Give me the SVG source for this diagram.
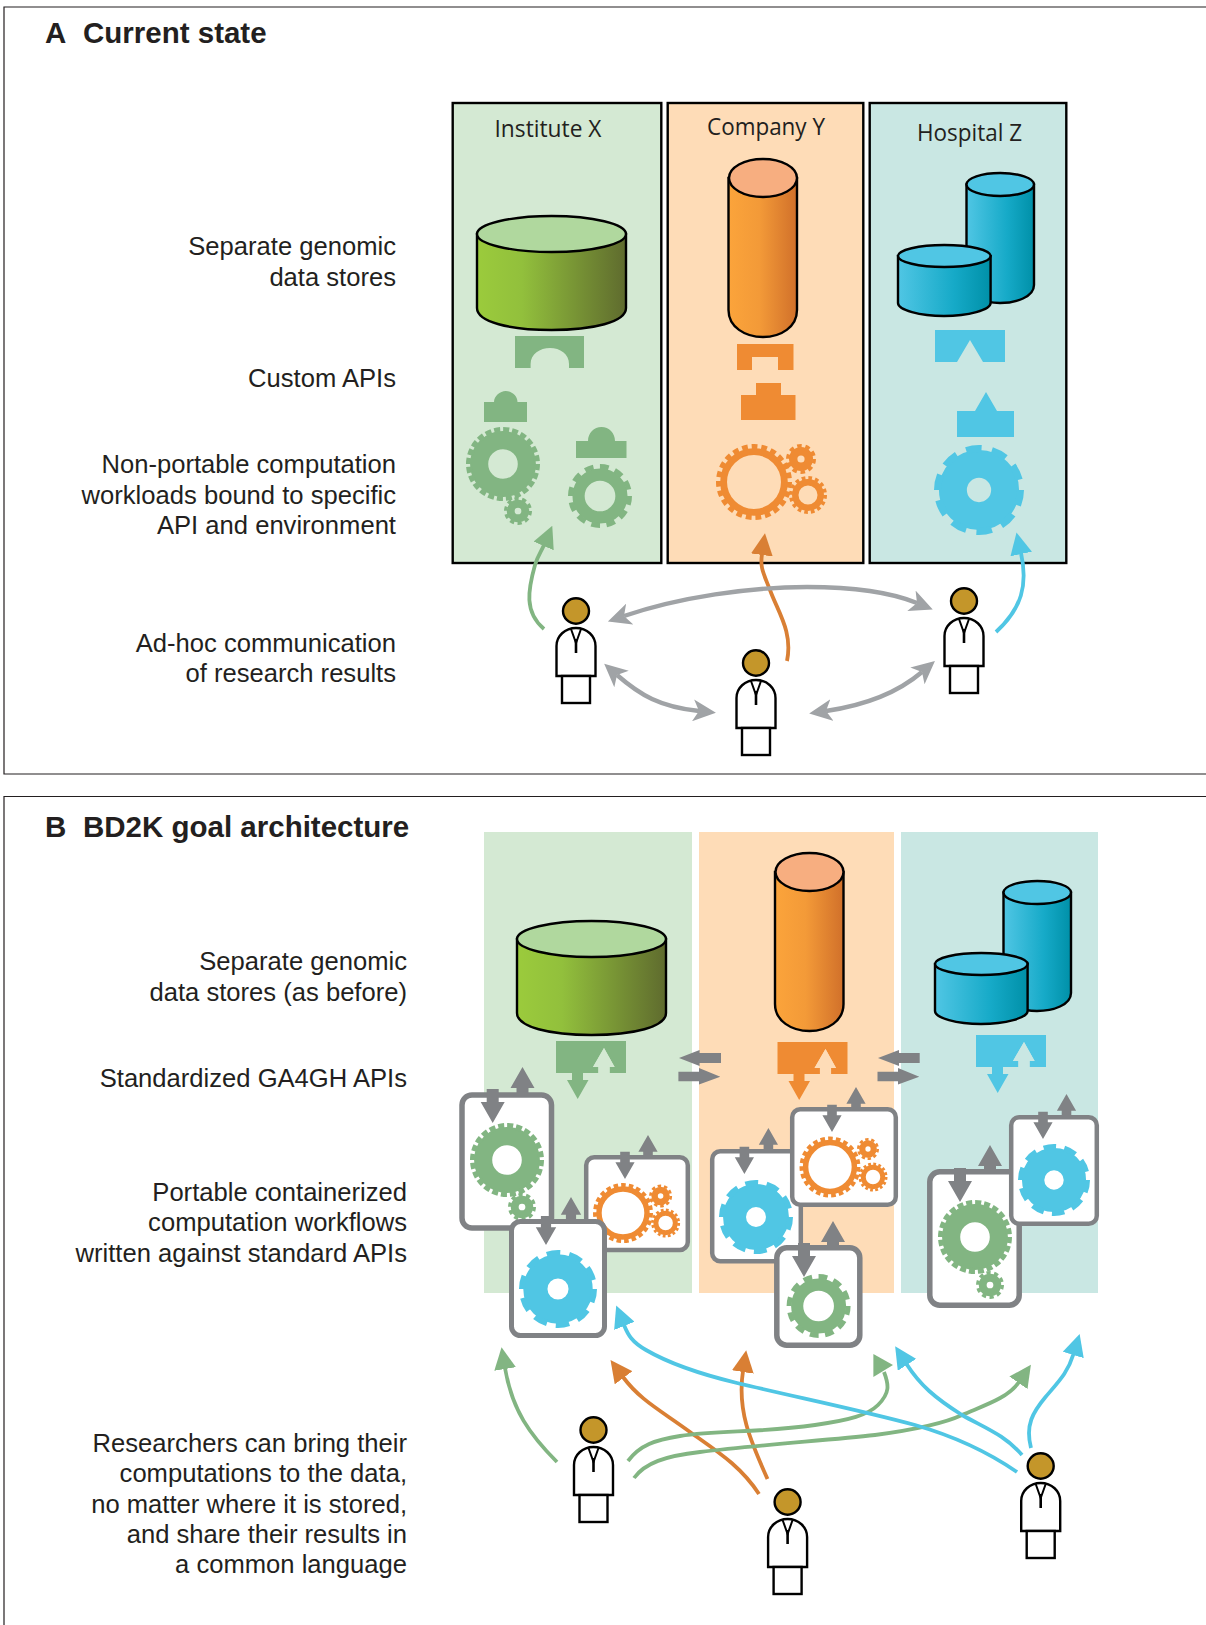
<svg xmlns="http://www.w3.org/2000/svg" width="1206" height="1625" viewBox="0 0 1206 1625">
<style>
text{font-family:"Liberation Sans",Arial,sans-serif;fill:#231f20}
.title{font-size:29.5px;font-weight:700}
.lab{font-size:25.6px;text-anchor:end}
.org{font-family:"Open Sans","Noto Sans",sans-serif;font-size:23px}
.frame{fill:none;stroke:#231f20;stroke-width:1.2}
.box{stroke:#000;stroke-width:2.4}
.bgG{fill:#d4e9d3}.bgO{fill:#fedcb7}.bgT{fill:#c9e7e3}
.g{color:#82b582;fill:#82b582}.o{color:#ef8b33;fill:#ef8b33}.t{color:#50c6e4;fill:#50c6e4}
.ring{fill:none;stroke:currentColor}
.cyl{stroke:#000;stroke-width:2.4}
.card{fill:#fff;stroke:#808285}
.gray{fill:#808285}
.hw{fill:none;stroke-width:3.8}
.hg{fill:none;stroke:#a0a3a6;stroke-width:4.4}
.cG{stroke:#82b582}.cO{stroke:#d97f34}.cT{stroke:#50c6e4}
.ps{fill:#fff;stroke:#000;stroke-width:2.4}
</style>
<defs>
<linearGradient id="gg"><stop offset="0" stop-color="#9bcb3c"/><stop offset=".3" stop-color="#92c03c"/><stop offset="1" stop-color="#5f6b2e"/></linearGradient>
<linearGradient id="go"><stop offset="0" stop-color="#fba43b"/><stop offset=".45" stop-color="#f39a38"/><stop offset="1" stop-color="#d1702a"/></linearGradient>
<linearGradient id="gt"><stop offset="0" stop-color="#50c6e4"/><stop offset=".6" stop-color="#16aac8"/><stop offset="1" stop-color="#0090a8"/></linearGradient>
<marker id="mG" viewBox="0 0 22 22" markerUnits="userSpaceOnUse" markerWidth="22" markerHeight="22" refX="1" refY="11" orient="auto"><path d="M0,0L22,11L0,22Z" fill="#82b582"/></marker>
<marker id="mO" viewBox="0 0 22 22" markerUnits="userSpaceOnUse" markerWidth="22" markerHeight="22" refX="1" refY="11" orient="auto"><path d="M0,0L22,11L0,22Z" fill="#d97f34"/></marker>
<marker id="mT" viewBox="0 0 22 22" markerUnits="userSpaceOnUse" markerWidth="22" markerHeight="22" refX="1" refY="11" orient="auto"><path d="M0,0L22,11L0,22Z" fill="#50c6e4"/></marker>
<marker id="mA" viewBox="0 0 23 22" markerUnits="userSpaceOnUse" markerWidth="23" markerHeight="22" refX="6" refY="11" orient="auto-start-reverse"><path d="M0,0L23,11L0,22L6,11Z" fill="#a0a3a6"/></marker>

<g id="gFine"><circle class="ring" r="64.5" stroke-width="49"/><circle class="ring" r="92" stroke-width="16" pathLength="100" stroke-dasharray="2.8 1.37"/></g>
<g id="gRing"><circle class="ring" r="67" stroke-width="38"/><circle class="ring" r="92" stroke-width="16" pathLength="100" stroke-dasharray="4.8 3.53"/></g>
<g id="gWide"><circle class="ring" r="58" stroke-width="62"/><circle class="ring" r="92" stroke-width="16" pathLength="100" stroke-dasharray="6 4"/></g>
<g id="gThin"><circle class="ring" r="80" stroke-width="18"/><circle class="ring" r="93" stroke-width="14" pathLength="100" stroke-dasharray="2.6 1.75"/></g>
<g id="gSm"><circle class="ring" r="67" stroke-width="34"/><circle class="ring" r="90" stroke-width="20" pathLength="100" stroke-dasharray="3.4 2.85"/></g>
<g id="gTiny"><circle class="ring" r="52" stroke-width="56"/><circle class="ring" r="88" stroke-width="24" pathLength="100" stroke-dasharray="5.5 4.5"/></g>

<polygon id="up" points="0,0 12,21 6,21 6,27 -6,27 -6,21 -12,21"/>
<polygon id="dn" points="0,0 12,-21 6,-21 6,-34 -6,-34 -6,-21 -12,-21"/>

<g id="cylG"><path d="M477,234V308C477,322 510,330 551.5,330C593,330 626,322 626,308V234Z" fill="url(#gg)" class="cyl"/><ellipse cx="551.5" cy="234" rx="74.5" ry="18" fill="#b0d89e" class="cyl"/></g>
<g id="cylO"><path d="M728.5,178V310C728.5,327 745,337 763,337C781,337 797,327 797,310V178Z" fill="url(#go)" class="cyl"/><ellipse cx="763" cy="178" rx="34" ry="19" fill="#f7ae80" class="cyl"/></g>
<g id="cylT"><path d="M966.5,184.5V285C966.5,297 985,303 1000,303C1016,303 1034,297 1034,285V184.5Z" fill="url(#gt)" class="cyl"/><ellipse cx="1000.25" cy="184.5" rx="33.75" ry="11.5" fill="#50c6e4" class="cyl"/><path d="M898,256V303C898,310 920,316 944,316C968,316 990.6,310 990.6,303V256Z" fill="url(#gt)" class="cyl"/><ellipse cx="944.3" cy="256" rx="46.3" ry="11" fill="#50c6e4" class="cyl"/></g>

<g id="person"><ellipse cx="0" cy="0" rx="13" ry="12.7" fill="#c4962a" stroke="#000" stroke-width="2.4"/><path class="ps" d="M-19.5,65V35C-19.5,25 -11,17 0,17C11,17 19.5,25 19.5,35V65Z"/><rect class="ps" x="-14" y="65" width="28" height="27"/><path d="M-5,18L0,32L5,18" fill="none" stroke="#000" stroke-width="2"/><path d="M0,28V42" fill="none" stroke="#000" stroke-width="2.6"/></g>

<path id="stdApi" d="M0,0H70V32H53.6V26H58.6L48,7L37,26H42.4V32H27V39H32.5L21.7,58L11,39H16V32H0Z"/>
</defs>

<path class="frame" d="M1206,7H4V774H1206"/>
<path class="frame" d="M1206,796.5H4V1625"/>

<g id="panel-a-labels">
<text class="title" x="45" y="42.5">A</text><text class="title" x="83" y="42.5">Current state</text>
<text class="lab" x="396" y="255">Separate genomic</text>
<text class="lab" x="396" y="286">data stores</text>
<text class="lab" x="396" y="387">Custom APIs</text>
<text class="lab" x="396" y="473">Non-portable computation</text>
<text class="lab" x="396" y="504">workloads bound to specific</text>
<text class="lab" x="396" y="534">API and environment</text>
<text class="lab" x="396" y="652">Ad-hoc communication</text>
<text class="lab" x="396" y="682">of research results</text>
</g>

<g id="institute-x">
<rect class="box bgG" x="452.7" y="103" width="208.6" height="460"/>
<text class="org" x="494.5" y="137" textLength="107" lengthAdjust="spacingAndGlyphs">Institute X</text>
<use href="#cylG"/>
<path class="g" d="M515,336H584V368H569V364C569,354 560,348 550,348C540,348 530.6,354 530.6,364V368H515Z"/>
<path class="g" d="M484,402H494C494,396 500,391 505.7,391C512,391 517.5,396 517.5,402H527V422H484Z"/>
<path class="g" d="M576,441H588C588,433 594,427 601.5,427C609,427 615,433 615,441H626.5V458H576Z"/>
<use class="g" href="#gFine" transform="translate(503,464) scale(.37)"/>
<use class="g" href="#gTiny" transform="translate(518,511) scale(.14)"/>
<use class="g" href="#gRing" transform="translate(600,496) scale(.32)"/>
</g>

<g id="company-y">
<rect class="box bgO" x="667.7" y="103" width="195.6" height="460"/>
<text class="org" x="707" y="135" textLength="118" lengthAdjust="spacingAndGlyphs">Company Y</text>
<use href="#cylO"/>
<path class="o" d="M737,344H793.5V370H778V357H752V370H737Z"/>
<path class="o" d="M756,383H781V395H795.5V420H741V395H756Z"/>
<use class="o" href="#gThin" transform="translate(754,482) scale(.38)"/>
<use class="o" href="#gTiny" transform="translate(801,459) scale(.15)"/>
<use class="o" href="#gSm" transform="translate(808,495) scale(.19)"/>
</g>

<g id="hospital-z">
<rect class="box bgT" x="869.7" y="103" width="196.6" height="460"/>
<text class="org" x="917" y="141" textLength="105" lengthAdjust="spacingAndGlyphs">Hospital Z</text>
<use href="#cylT"/>
<path class="t" d="M935,330H1005V362H983L970,340L957,362H935Z"/>
<path class="t" d="M986,392L997,411H1014V437H957V411H975Z"/>
<use class="t" href="#gWide" transform="translate(979,490) scale(.45)"/>
</g>

<g id="researcher-a1"><use href="#person" x="576" y="611"/></g>
<g id="researcher-a2"><use href="#person" x="756" y="663"/></g>
<g id="researcher-a3"><use href="#person" x="964" y="601"/></g>

<g id="connectors-a">
<path class="hw cG" marker-end="url(#mG)" d="M544,629C524,612 528,590 535,565C538,555 541,552 544,545"/>
<path class="hw cO" marker-end="url(#mO)" d="M787,661C793,632 778,612 770,590C763,572 760,568 762,554"/>
<path class="hw cT" marker-end="url(#mT)" d="M996,632C1022,608 1028,585 1021,553"/>
<path class="hg" marker-start="url(#mA)" marker-end="url(#mA)" d="M624,616C680,597 750,587 807,587C850,587 890,592 917,603"/>
<path class="hg" marker-start="url(#mA)" marker-end="url(#mA)" d="M617,675C640,695 660,707 699,711"/>
<path class="hg" marker-start="url(#mA)" marker-end="url(#mA)" d="M826,711C860,706 895,695 922,672"/>
</g>

<g id="panel-b-labels">
<text class="title" x="45" y="836.5">B</text><text class="title" x="83" y="836.5">BD2K goal architecture</text>
<text class="lab" x="407" y="970">Separate genomic</text>
<text class="lab" x="407" y="1000.5">data stores (as before)</text>
<text class="lab" x="407" y="1086.5">Standardized GA4GH APIs</text>
<text class="lab" x="407" y="1201">Portable containerized</text>
<text class="lab" x="407" y="1231">computation workflows</text>
<text class="lab" x="407" y="1262">written against standard APIs</text>
<text class="lab" x="407" y="1452">Researchers can bring their</text>
<text class="lab" x="407" y="1482">computations to the data,</text>
<text class="lab" x="407" y="1512.5">no matter where it is stored,</text>
<text class="lab" x="407" y="1542.5">and share their results in</text>
<text class="lab" x="407" y="1573">a common language</text>
</g>

<g id="band-green"><rect class="bgG" x="484" y="832" width="208" height="461"/><use href="#cylG" transform="translate(40,705)"/>
<use class="g" href="#stdApi" transform="translate(556,1041)"/><path class="bgG" d="M604,1048L614.6,1067H609.6V1073H598.4V1067H593Z"/></g>
<g id="band-orange"><rect class="bgO" x="699" y="832" width="195" height="461"/><use href="#cylO" transform="translate(46.5,694)"/>
<use class="o" href="#stdApi" transform="translate(777.5,1042)"/><path class="bgO" d="M825.5,1049L836,1068H831V1074H820V1068H814.5Z"/></g>
<g id="band-teal"><rect class="bgT" x="901" y="832" width="197" height="461"/><use href="#cylT" transform="translate(37,708)"/>
<use class="t" href="#stdApi" transform="translate(976,1035)"/><path class="bgT" d="M1024,1042L1034.6,1061H1029.6V1067H1018.4V1061H1013Z"/></g>

<g id="api-arrows" class="gray">
<path d="M679,1058L699.6,1050V1053H721V1063H699.6V1066Z"/>
<path d="M720.3,1076.7L699,1068V1071.7H678.4V1081.3H699V1084.5Z"/>
<path d="M878,1058L899,1050V1053H919.7V1063H899V1066Z"/>
<path d="M919.3,1076.7L898,1068V1071.7H877.5V1081.3H898V1084.5Z"/>
</g>

<g id="card-1"><rect class="card" x="462" y="1095" width="89.5" height="133" rx="10" stroke-width="5.5"/>
<use class="g" href="#gFine" transform="translate(507,1160) scale(.37)"/><use class="g" href="#gTiny" transform="translate(522,1207) scale(.14)"/>
<use class="gray" href="#up" transform="translate(522.5,1067)"/><use class="gray" href="#dn" transform="translate(492.7,1123)"/></g>
<g id="card-2"><rect class="card" x="586.2" y="1157.2" width="101.6" height="92.8" rx="8" stroke-width="4.5"/>
<use class="o" href="#gThin" transform="translate(623,1213) scale(.3)"/><use class="o" href="#gTiny" transform="translate(660.6,1196) scale(.115)"/><use class="o" href="#gSm" transform="translate(665.6,1223) scale(.145)"/>
<use class="gray" href="#up" transform="translate(648,1135) scale(.8)"/><use class="gray" href="#dn" transform="translate(625,1179) scale(.8)"/></g>
<g id="card-3"><rect class="card" x="511.5" y="1221.5" width="93" height="114" rx="9" stroke-width="5"/>
<use class="t" href="#gWide" transform="translate(558,1289) scale(.39)"/>
<use class="gray" href="#up" transform="translate(571,1197) scale(.85)"/><use class="gray" href="#dn" transform="translate(546,1245) scale(.85)"/></g>

<g id="card-4"><rect class="card" x="712.2" y="1151.2" width="88.6" height="110" rx="8" stroke-width="4.5"/>
<use class="t" href="#gWide" transform="translate(756,1217) scale(.37)"/>
<use class="gray" href="#up" transform="translate(768.4,1128) scale(.8)"/><use class="gray" href="#dn" transform="translate(744.4,1174) scale(.8)"/></g>
<g id="card-5"><rect class="card" x="792.2" y="1109.2" width="103.6" height="95.6" rx="8" stroke-width="4.5"/>
<use class="o" href="#gThin" transform="translate(830,1167) scale(.305)"/><use class="o" href="#gTiny" transform="translate(868,1149) scale(.11)"/><use class="o" href="#gSm" transform="translate(873,1177) scale(.145)"/>
<use class="gray" href="#up" transform="translate(856,1087) scale(.8)"/><use class="gray" href="#dn" transform="translate(832,1132) scale(.8)"/></g>
<g id="card-6"><rect class="card" x="776.8" y="1247.8" width="83" height="97.4" rx="10" stroke-width="5.5"/>
<use class="g" href="#gRing" transform="translate(818.6,1306) scale(.32)"/>
<use class="gray" href="#up" transform="translate(833,1221)"/><use class="gray" href="#dn" transform="translate(804,1277)"/></g>

<g id="card-7"><rect class="card" x="929.8" y="1171.8" width="89.4" height="133.4" rx="10" stroke-width="5.5"/>
<use class="g" href="#gFine" transform="translate(975,1237) scale(.37)"/><use class="g" href="#gTiny" transform="translate(990,1285) scale(.14)"/>
<use class="gray" href="#up" transform="translate(990,1145)"/><use class="gray" href="#dn" transform="translate(960,1202)"/></g>
<g id="card-8"><rect class="card" x="1011.2" y="1117.2" width="85.6" height="106.6" rx="8" stroke-width="4.5"/>
<use class="t" href="#gWide" transform="translate(1054,1180) scale(.36)"/>
<use class="gray" href="#up" transform="translate(1066.5,1094) scale(.8)"/><use class="gray" href="#dn" transform="translate(1043,1139) scale(.8)"/></g>

<g id="researcher-b1"><use href="#person" x="593.5" y="1430"/></g>
<g id="researcher-b2"><use href="#person" x="787.6" y="1502"/></g>
<g id="researcher-b3"><use href="#person" x="1040.7" y="1466"/></g>

<g id="connectors-b">
<path class="hw cG" marker-end="url(#mG)" d="M557,1462C530,1435 512,1410 505,1368"/>
<path class="hw cO" marker-end="url(#mO)" d="M759,1494C740,1465 715,1450 690,1432C660,1410 640,1400 623,1377"/>
<path class="hw cO" marker-end="url(#mO)" d="M767.5,1479C750,1440 737,1410 743,1371"/>
<path class="hw cG" d="M628,1461C640,1445 655,1440 680,1436C720,1430 760,1433 815,1425C850,1420 868,1415 878,1405C890,1393 889,1385 884,1372"/>
<polygon fill="#82b582" points="873.4,1354 893,1365 873.4,1377"/>
<path class="hw cG" marker-end="url(#mG)" d="M634,1478C645,1463 665,1456 700,1452C760,1445 830,1440 875,1435C920,1429 945,1423 962,1415C985,1405 1008,1398 1019,1382"/>
<path class="hw cT" marker-end="url(#mT)" d="M1017,1472C985,1450 950,1435 915,1425C860,1410 800,1398 737,1383C700,1374 670,1364 646,1350C632,1342 628,1335 624,1325"/>
<path class="hw cT" marker-end="url(#mT)" d="M1022,1455C1005,1435 985,1428 962,1415C935,1398 920,1385 906.5,1364"/>
<path class="hw cT" marker-end="url(#mT)" d="M1031,1448C1025,1425 1033,1412 1045.5,1397C1060,1380 1068,1372 1073.5,1354"/>
</g>
</svg>
